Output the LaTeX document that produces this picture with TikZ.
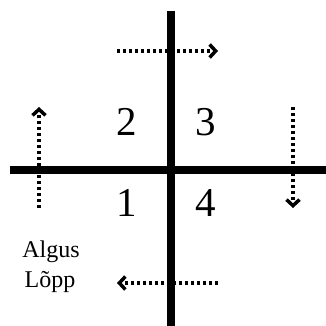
\documentclass[tikz,border=0pt]{standalone}
\usepackage{fontspec}
\setmainfont{Liberation Serif}
\usetikzlibrary{arrows.meta}

\begin{document}
\begin{tikzpicture}[
    x=1pt, y=-1pt,
    axis/.style={line width=7.5pt},
    flow/.style={line width=3.5pt, dash pattern=on 3pt off 3pt,
        -{Straight Barb[length=6pt, width=13pt]}},
    num/.style={font=\fontsize{41}{48}\selectfont, inner sep=0pt},
    lbl/.style={font=\fontsize{24}{28}\selectfont, inner sep=0pt, anchor=base}
]
\useasboundingbox (0,0) rectangle (326,326);

% axes
\coordinate (top) at (171,11);
\coordinate (bottom) at (171,326);
\coordinate (left) at (10,170);
\coordinate (right) at (326,170);
\draw[axis] (top) -- (bottom);
\draw[axis] (left) -- (right);

% quadrant numbers
\node[num] (q2) at (127,122) {2};
\node[num] (q3) at (206,122) {3};
\node[num] (q1) at (127,203) {1};
\node[num] (q4) at (206,203) {4};

% labels
\node[lbl] (start) at (51,257) {Algus};
\node[lbl] (stop) at (50,287) {Lõpp};

% flow arrows
\coordinate (up0) at (39,208);   \coordinate (up1) at (39,107);
\coordinate (rt0) at (117,51);   \coordinate (rt1) at (218,51);
\coordinate (dn0) at (293,107);  \coordinate (dn1) at (293,208);
\coordinate (lt0) at (218,283);  \coordinate (lt1) at (117,283);
\draw[flow] (up0) -- (up1);
\draw[flow] (rt0) -- (rt1);
\draw[flow] (dn0) -- (dn1);
\draw[flow] (lt0) -- (lt1);

\end{tikzpicture}
\end{document}
